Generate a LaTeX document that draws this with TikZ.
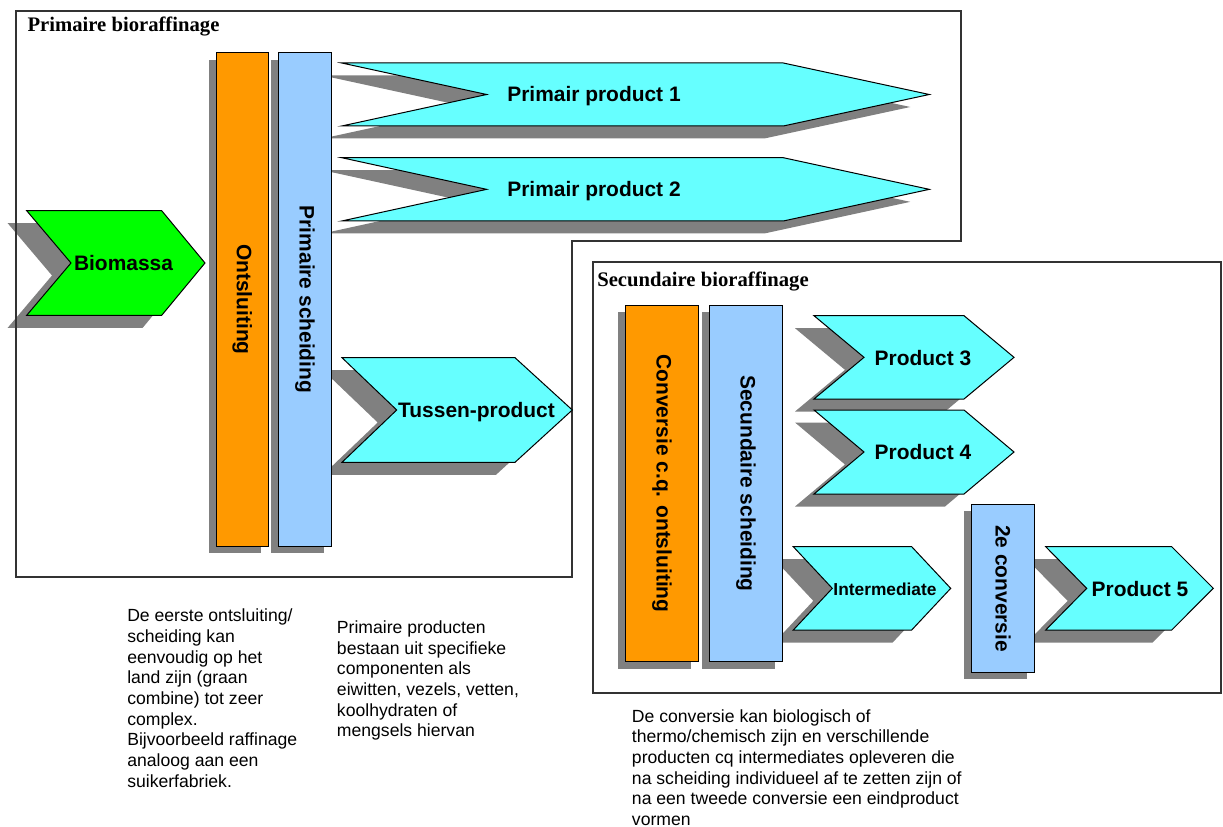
\documentclass[tikz,border=0pt]{standalone}
\usepackage{fontspec}
\setmainfont{Liberation Sans}
\newfontfamily\titlefont{Liberation Serif}
\definecolor{bgreen}{HTML}{00FF00}
\definecolor{borange}{HTML}{FF9900}
\definecolor{bblue}{HTML}{99CCFF}
\definecolor{bcyan}{HTML}{66FFFF}
\definecolor{bshadow}{HTML}{808080}
\newcommand{\chevp}[6]{(#1,#5) -- (#3,#5) -- (#4,{(#5+#6)/2}) -- (#3,#6) -- (#1,#6) -- (#2,{(#5+#6)/2}) -- cycle}
\begin{document}
\begin{tikzpicture}[x=0.75pt,y=-0.75pt,
  frame/.style={draw=black!80,line width=1.1pt},
  chevshadow/.style={fill=bshadow,shift={(-19,12.5)}},
  barshadow/.style={fill=bshadow,shift={(-7.5,7)}},
  shapeline/.style={draw=black,line width=0.75pt},
  lab/.style={font=\fontsize{15.7}{18}\selectfont\bfseries,inner sep=0pt,anchor=base},
  vlab/.style={font=\fontsize{15.7}{18}\selectfont\bfseries,inner sep=0pt,rotate=-90},
  ttl/.style={font=\titlefont\fontsize{15.5}{18}\selectfont\bfseries,inner sep=0pt,anchor=base west},
  note/.style={font=\fontsize{13.2}{15.5}\selectfont,inner sep=0pt,anchor=north west,align=left}
]
\useasboundingbox (0,0) rectangle (1223,827);

% ---- shadows ----
\fill[chevshadow] \chevp{26.7}{71}{161.7}{205}{210.7}{315.3};
\fill[chevshadow] \chevp{341.7}{486.7}{783.3}{929.3}{63}{126};
\fill[chevshadow] \chevp{341.7}{486.7}{783.3}{929.3}{157.7}{221};
\fill[chevshadow] \chevp{342}{396.7}{515}{572.3}{357.7}{462.3};
\fill[chevshadow] \chevp{814}{864}{964}{1014}{315.7}{399};
\fill[chevshadow] \chevp{814}{864}{964}{1014}{410}{494};
\fill[chevshadow] \chevp{793.3}{832.3}{911.7}{950.7}{546.7}{630};
\fill[chevshadow] \chevp{1045.7}{1086.7}{1171.7}{1213.3}{546.7}{630};
\fill[barshadow] (216,52.7) rectangle (268.3,546);
\fill[barshadow] (278.7,52.7) rectangle (331,546);
\fill[barshadow] (625,305) rectangle (698.7,661.7);
\fill[barshadow] (709,305) rectangle (782.7,661.7);
\fill[barshadow] (971.7,504.3) rectangle (1034.7,672.3);

% ---- frames ----
\draw[frame] (16,11) -- (961,11) -- (961,241) -- (572,241) -- (572,577) -- (16,577) -- cycle;
\draw[frame] (593,262) rectangle (1221,693);
\node[ttl] (t1) at (27.3,31.7) {Primaire bioraffinage};
\node[ttl] (t2) at (597,286) {Secundaire bioraffinage};

% ---- bars ----
\draw[shapeline,fill=borange] (216,52.7) rectangle (268.3,546);
\draw[shapeline,fill=bblue] (278.7,52.7) rectangle (331,546);
\draw[shapeline,fill=borange] (625,305) rectangle (698.7,661.7);
\draw[shapeline,fill=bblue] (709,305) rectangle (782.7,661.7);
\draw[shapeline,fill=bblue] (971.7,504.3) rectangle (1034.7,672.3);
\node[vlab] (ontsl) at (242.3,299.5) {Ontsluiting};
\node[vlab] (psch) at (304.9,299.5) {Primaire scheiding};
\node[vlab] (conv) at (661.9,483.5) {Conversie c.q. ontsluiting};
\node[vlab] (ssch) at (745.9,483.5) {Secundaire scheiding};
\node[vlab] (conv2) at (1003.2,588.5) {2e conversie};

% ---- chevrons ----
\draw[shapeline,fill=bgreen] \chevp{26.7}{71}{161.7}{205}{210.7}{315.3};
\draw[shapeline,fill=bcyan] \chevp{341.7}{486.7}{783.3}{929.3}{63}{126};
\draw[shapeline,fill=bcyan] \chevp{341.7}{486.7}{783.3}{929.3}{157.7}{221};
\draw[shapeline,fill=bcyan] \chevp{342}{396.7}{515}{572.3}{357.7}{462.3};
\draw[shapeline,fill=bcyan] \chevp{814}{864}{964}{1014}{315.7}{399};
\draw[shapeline,fill=bcyan] \chevp{814}{864}{964}{1014}{410}{494};
\draw[shapeline,fill=bcyan] \chevp{793.3}{832.3}{911.7}{950.7}{546.7}{630};
\draw[shapeline,fill=bcyan] \chevp{1045.7}{1086.7}{1171.7}{1213.3}{546.7}{630};

\node[lab] (bio) at (123.5,270.5) {Biomassa};
\node[lab] (pp1) at (594,102) {Primair product 1};
\node[lab] (pp2) at (594,197) {Primair product 2};
\node[lab] (tus) at (476.5,417.5) {Tussen-product};
\node[lab] (p3) at (923,365.5) {Product 3};
\node[lab] (p4) at (923,459.5) {Product 4};
\node[lab,font=\fontsize{13}{15}\selectfont\bfseries] (inter) at (885,595) {Intermediate};
\node[lab] (p5) at (1140,596) {Product 5};

% ---- notes ----
\node[note] (n1) at (127,608.3) {\rule{0pt}{10pt}De eerste ontsluiting/\\scheiding kan\\eenvoudig op het\\land zijn (graan\\combine) tot zeer\\complex.\\Bijvoorbeeld raffinage\\analoog aan een\\suikerfabriek.};
\node[note] (n2) at (336.7,620) {\rule{0pt}{10pt}Primaire producten\\bestaan uit specifieke\\componenten als\\eiwitten, vezels, vetten,\\koolhydraten of\\mengsels hiervan};
\node[note] (n3) at (631.7,708.4) {\rule{0pt}{10pt}De conversie kan biologisch of\\thermo/chemisch zijn en verschillende\\producten cq intermediates opleveren die\\na scheiding individueel af te zetten zijn of\\na een tweede conversie een eindproduct\\vormen};
\end{tikzpicture}
\end{document}
